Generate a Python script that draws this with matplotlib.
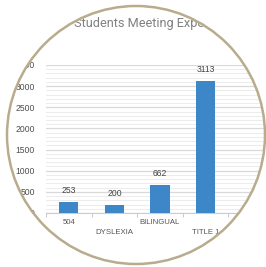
import matplotlib.pyplot as plt
from matplotlib.patches import Wedge, Circle
import numpy as np

categories = ["504", "DYSLEXIA", "BILINGUAL", "TITLE 1"]
values = [253, 200, 662, 3113]
title = "Students Meeting Expectations"

W, H = 266, 267
BAR = "#3d86c7"
RING = "#b8ac8d"

plt.rcParams['font.family'] = ['Liberation Sans', 'DejaVu Sans']

fig = plt.figure(figsize=(W / 100, H / 100), dpi=100)
fig.patch.set_facecolor("white")

# plot area in pixels: left 46, right 274 (5 slots), y 0 at 213, 3500 at 65
left, right, bottom, top = 46, 274, 213, 65
ax = fig.add_axes([left / W, 1 - bottom / H, (right - left) / W, (bottom - top) / H])
ax.set_facecolor("white")

x = np.arange(len(categories))
ax.bar(x, values, width=0.42, color=BAR, zorder=3)
for xi, v in zip(x, values):
    ax.annotate(str(v), (xi, v), xytext=(0, 5), textcoords="offset points",
                ha="center", va="bottom", fontsize=6.2, color="#444")

ax.set_xlim(-0.5, 4.5)
ax.set_ylim(0, 3500)
ax.set_yticks(np.arange(0, 3501, 500))
ax.set_yticks(np.arange(0, 3501, 100), minor=True)
ax.grid(axis="y", which="major", color="#d9d9d9", lw=0.9, zorder=0)
ax.grid(axis="y", which="minor", color="#ececec", lw=0.7, zorder=0)
ax.tick_params(axis="y", which="both", length=0, labelsize=6.2, labelcolor="#4d4d4d", pad=8)

ax.set_xticks(np.arange(-0.5, 5, 1))
ax.set_xticklabels([])
ax.tick_params(axis="x", length=3, color="#ccc", width=0.8)
for i, c in enumerate(categories):
    off = -10 if i % 2 == 0 else -19
    ax.annotate(c, (i, 0), xytext=(0, off), textcoords="offset pixels",
                ha="center", va="center", fontsize=5.6, color="#555",
                annotation_clip=False)

for s in ["top", "right", "left"]:
    ax.spines[s].set_visible(False)
ax.spines["bottom"].set_color("#ccc")

fig.text(74 / W, 1 - 23 / H, title, ha="left", va="center",
         fontsize=9.2, color="#808080", family="Roboto")

# circular mask on top of everything
ov = fig.add_axes([0, 0, 1, 1])
ov.set_zorder(10)
ov.patch.set_alpha(0)
ov.set_xlim(0, W)
ov.set_ylim(H, 0)
ov.axis("off")
cx, cy, r = 136, 135, 129
ov.add_patch(Wedge((cx, cy), 400, 0, 360, width=400 - r, color="white", lw=0))
ov.add_patch(Circle((cx, cy), r, fill=False, ec=RING, lw=1.8))

fig.savefig("out.png", dpi=100)
